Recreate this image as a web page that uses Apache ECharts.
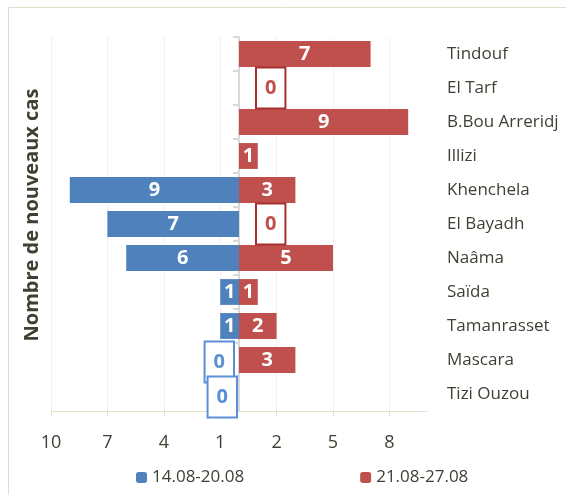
<!DOCTYPE html>
<html>
<head>
<meta charset="utf-8">
<script src="https://cdn.jsdelivr.net/npm/echarts@6/dist/echarts.min.js"></script>
<style>
  html, body { margin: 0; padding: 0; background: #fff; }
  #main { width: 566px; height: 495px; }
</style>
</head>
<body>
<div id="main"></div>
<script>
// wilayas, de haut en bas
var wilayas = ['Tindouf', 'El Tarf', 'B.Bou Arreridj', 'Illizi', 'Khenchela', 'El Bayadh',
    'Naâma', 'Saïda', 'Tamanrasset', 'Mascara', 'Tizi Ouzou'];
// semaine 14.08-20.08 (côté gauche)
var semaine1 = [null, null, null, null, 9, 7, 6, 1, 1, 0, 0];
// semaine 21.08-27.08 (côté droit)
var semaine2 = [7, 0, 9, 1, 3, 0, 5, 1, 2, 3, null];
var legendes = ['14.08-20.08', '21.08-27.08'];

var bleu = '#4f81bd';
var rouge = '#c0504d';
var police = 'Open Sans';

// construit les données d'une série, les zéros ont une étiquette encadrée
function buildData(values, sign, color, border) {
    return values.map(function (v, i) {
        if (v === null) return null;
        var item = { value: sign * v };
        if (v === 0) {
            item.label = {
                position: sign > 0 ? 'right' : 'left',
                distance: sign > 0 ? 18 : 6,
                offset: sign > 0 ? [0, 0] : (i === values.length - 1 ? [3, 3] : [0, 2]),
                color: color,
                backgroundColor: '#fff',
                borderColor: border,
                borderWidth: 2,
                padding: [10, 8, 9, 8]
            };
        }
        return item;
    });
}

var myChart = echarts.init(document.getElementById('main'));
var option = {
    animation: false,
    textStyle: { fontFamily: police },
    graphic: [
        {
            type: 'rect',
            shape: { x: 8.5, y: 7.5, width: 600, height: 600 },
            style: { fill: 'none', stroke: '#e3ddc8', lineWidth: 1 },
            silent: true
        },
        {
            type: 'text',
            x: 32, y: 215,
            rotation: Math.PI / 2,
            style: {
                text: 'Nombre de nouveaux cas',
                fontFamily: police,
                fontSize: 20,
                fontWeight: 'bold',
                fill: '#3f3f33',
                align: 'center',
                verticalAlign: 'middle'
            }
        }
    ],
    legend: {
        data: legendes,
        bottom: 4,
        left: 131,
        itemWidth: 11,
        itemHeight: 11,
        itemGap: 116,
        textStyle: { fontSize: 17, color: '#403f33', fontFamily: police }
    },
    grid: {
        left: 51,
        right: 139,
        top: 37,
        bottom: 84
    },
    xAxis: {
        type: 'value',
        min: -10,
        max: 10,
        interval: 3,
        axisLine: { show: true, lineStyle: { color: '#e6e0cc' } },
        axisTick: { show: true, length: 5, lineStyle: { color: '#e0dccb' } },
        axisLabel: {
            margin: 23,
            fontSize: 18,
            color: '#403f33',
            showMaxLabel: false,
            formatter: function (v) { return Math.abs(v); }
        },
        splitLine: { show: true, showMaxLine: false, lineStyle: { color: '#f2f2f2' } }
    },
    yAxis: [
        {
            type: 'category',
            inverse: true,
            data: wilayas,
            axisLine: { show: true, onZero: true, lineStyle: { color: '#d9d9d9', width: 2 } },
            axisTick: { show: true, length: 6, lineStyle: { color: '#d9d9d9', width: 2 } },
            axisLabel: { show: false }
        },
        {
            type: 'category',
            inverse: true,
            position: 'right',
            data: wilayas,
            axisLine: { show: false },
            axisTick: { show: false },
            axisLabel: {
                margin: 20,
                align: 'left',
                fontSize: 17,
                color: '#403f33',
                fontFamily: police
            }
        }
    ],
    series: [
        {
            name: legendes[0],
            type: 'bar',
            yAxisIndex: 0,
            barWidth: '76%',
            barGap: '-100%',
            itemStyle: { color: bleu },
            label: {
                show: true,
                position: 'inside',
                color: '#fff',
                fontSize: 20,
                fontWeight: 'bold',
                fontFamily: police,
                formatter: function (p) { return Math.abs(p.value); }
            },
            data: buildData(semaine1, -1, '#5a8fd4', '#5b8fd8')
        },
        {
            name: legendes[1],
            type: 'bar',
            yAxisIndex: 0,
            barWidth: '76%',
            barGap: '-100%',
            itemStyle: { color: rouge },
            label: {
                show: true,
                position: 'inside',
                color: '#fff',
                fontSize: 20,
                fontWeight: 'bold',
                fontFamily: police
            },
            data: buildData(semaine2, 1, rouge, '#a5302e')
        }
    ]
};
myChart.setOption(option);
</script>
</body>
</html>
